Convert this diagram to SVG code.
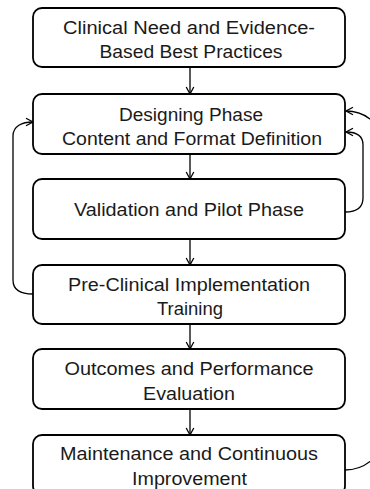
<svg xmlns="http://www.w3.org/2000/svg" width="370" height="489" viewBox="0 0 370 489">
<defs>
<style>
.box{fill:#fff;stroke:#000;stroke-width:1.8}
.t{font-family:"Liberation Sans",Arial,sans-serif;font-size:17.5px;fill:#1a1a1a;text-anchor:middle}
.c{fill:none;stroke:#000;stroke-width:1.3}
</style>
<marker id="ah" markerUnits="userSpaceOnUse" markerWidth="12" markerHeight="12" viewBox="-9 -6 12 12" refX="0" refY="0" orient="auto">
<path d="M-7,-3.8 L0,0 L-7,3.8" fill="none" stroke="#000" stroke-width="1.3"/>
</marker>
</defs>
<rect width="370" height="489" fill="#fff"/>
<g id="connectors">
<path class="c" d="M190,67 L190,94" marker-end="url(#ah)"/>
<path class="c" d="M190,154 L190,179" marker-end="url(#ah)"/>
<path class="c" d="M190,239 L190,265" marker-end="url(#ah)"/>
<path class="c" d="M190,324 L190,349" marker-end="url(#ah)"/>
<path class="c" d="M190,409 L190,435" marker-end="url(#ah)"/>
<path class="c" d="M33,294 C20,294 13,290 13,280 L13,136 C13,126 22,122 33,122" marker-end="url(#ah)"/>
<path class="c" d="M345,212 C356,212 363,208 363,198 L363,145 C363,136 356,132 346,132" marker-end="url(#ah)"/>
<path class="c" d="M345,470 C365,470 385,455 385,430 L385,150 C385,125 365,111 346,111" marker-end="url(#ah)"/>
</g>
<g id="n1">
<rect class="box" x="33" y="8" width="312" height="59" rx="9"/>
<text class="t" x="189" y="33.5" textLength="252" lengthAdjust="spacingAndGlyphs">Clinical Need and Evidence-</text>
<text class="t" x="191" y="58" textLength="183" lengthAdjust="spacingAndGlyphs">Based Best Practices</text>
</g>
<g id="n2">
<rect class="box" x="33" y="94" width="312" height="60" rx="9"/>
<text class="t" x="191" y="120.5" textLength="144" lengthAdjust="spacingAndGlyphs">Designing Phase</text>
<text class="t" x="192" y="144.5" textLength="260" lengthAdjust="spacingAndGlyphs">Content and Format Definition</text>
</g>
<g id="n3">
<rect class="box" x="33" y="179" width="312" height="60" rx="9"/>
<text class="t" x="189" y="216" textLength="230" lengthAdjust="spacingAndGlyphs">Validation and Pilot Phase</text>
</g>
<g id="n4">
<rect class="box" x="33" y="265" width="312" height="59" rx="9"/>
<text class="t" x="189" y="290.5" textLength="242" lengthAdjust="spacingAndGlyphs">Pre-Clinical Implementation</text>
<text class="t" x="190" y="314.5" textLength="66" lengthAdjust="spacingAndGlyphs">Training</text>
</g>
<g id="n5">
<rect class="box" x="33" y="349" width="312" height="60" rx="9"/>
<text class="t" x="189" y="375" textLength="249" lengthAdjust="spacingAndGlyphs">Outcomes and Performance</text>
<text class="t" x="189" y="399.5" textLength="92" lengthAdjust="spacingAndGlyphs">Evaluation</text>
</g>
<g id="n6">
<rect class="box" x="33" y="435" width="312" height="60" rx="9"/>
<text class="t" x="189" y="460" textLength="258" lengthAdjust="spacingAndGlyphs">Maintenance and Continuous</text>
<text class="t" x="189.5" y="484.5" textLength="115" lengthAdjust="spacingAndGlyphs">Improvement</text>
</g>
</svg>
